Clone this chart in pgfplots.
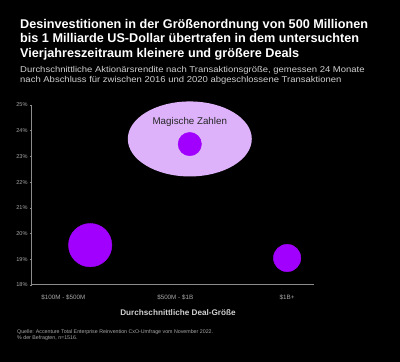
\documentclass[border=0pt]{standalone}
\usepackage{pgfplots}
\pgfplotsset{compat=1.18}
\usepackage{fontspec}
\setmainfont{Liberation Sans}
\definecolor{bub}{HTML}{A100FF}
\definecolor{lav}{HTML}{DDB2FA}
\definecolor{axgray}{HTML}{8C8C8C}
\definecolor{lblgray}{HTML}{A8A8A8}
\definecolor{subgray}{HTML}{D0D0D0}
\begin{document}
\begin{tikzpicture}
\fill[black] (0,0) rectangle (400bp,362bp);
\node[anchor=north west, align=left, text=white, font=\fontsize{12.7}{14.6}\selectfont\bfseries, inner sep=0pt] at (20bp,343bp)
{Desinvestitionen in der Größenordnung von 500 Millionen\\bis 1 Milliarde US-Dollar übertrafen in dem untersuchten\\Vierjahreszeitraum kleinere und größere Deals};
\node[anchor=north west, align=left, text=subgray, font=\fontsize{8.5}{9.3}\selectfont, inner sep=0pt, xscale=1.12] at (20bp,295.5bp)
{Durchschnittliche Aktionärsrendite nach Transaktionsgröße, gemessen 24 Monate\\nach Abschluss für zwischen 2016 und 2020 abgeschlossene Transaktionen};
\begin{axis}[
  at={(32bp,77bp)}, anchor=south west,
  width=282bp, height=180bp, scale only axis,
  xmin=-0.28, xmax=2.24, ymin=18, ymax=25,
  axis lines=left, axis line style={-, draw=axgray, line width=1bp},
  xtick={0,1,2}, xticklabels={\$100M - \$500M, \$500M - \$1B, \$1B+},
  xtick style={draw=none},
  ytick={18,19,...,25},
  yticklabel={\pgfmathprintnumber{\tick}\%},
  /pgf/number format/assume math mode=true,
  ytick style={draw=axgray, line width=0.6bp},
  tick align=outside, major tick length=2bp,
  yticklabel style={font=\fontsize{5.6}{6}\selectfont, text=lblgray, xshift=1bp},
  xticklabel style={font=\fontsize{6.3}{7}\selectfont, text=lblgray, yshift=-4.5bp},
  clip=false,
]
\fill[lav] (axis cs:1.13,23.68) ellipse [x radius=62bp, y radius=37.5bp];
\node[text=black!85, font=\fontsize{9.8}{11}\selectfont] at (axis cs:1.13,24.35) {Magische Zahlen};
\addplot[only marks, mark=*, mark size=21.7bp, draw=none, fill=bub, color=bub] coordinates {(0.24,19.55)};
\addplot[only marks, mark=*, mark size=11.7bp, draw=none, fill=bub, color=bub] coordinates {(1.13,23.48)};
\addplot[only marks, mark=*, mark size=13.7bp, draw=none, fill=bub, color=bub] coordinates {(2.0,19.05)};
\end{axis}
\node[text=subgray, font=\fontsize{8.2}{10}\selectfont\bfseries] at (178bp,49bp) {Durchschnittliche Deal-Größe};
\node[anchor=north west, align=left, text=lblgray, font=\fontsize{5.3}{6.2}\selectfont, inner sep=0pt] at (17bp,32.5bp)
{Quelle: Accenture Total Enterprise Reinvention CxO-Umfrage vom November 2022.\\\% der Befragten, n=1516.};
\end{tikzpicture}
\end{document}
